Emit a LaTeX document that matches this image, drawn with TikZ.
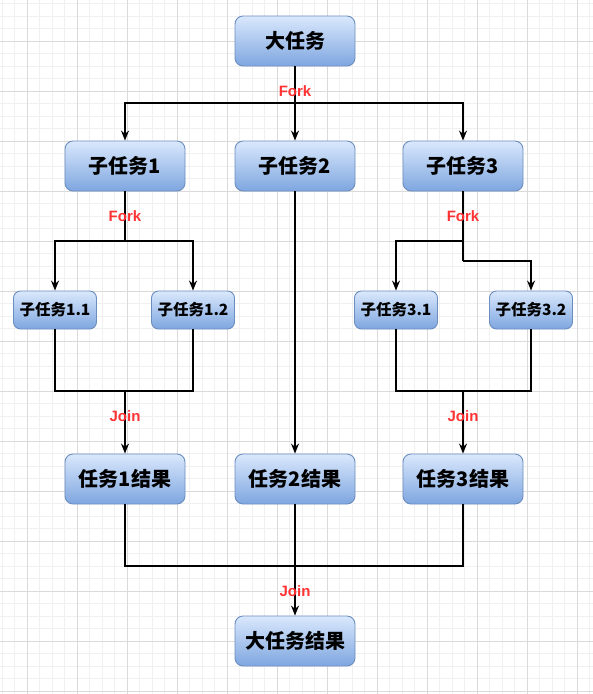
\documentclass[tikz,border=0pt]{standalone}
\usepackage{fontspec}
\setmainfont{Liberation Sans}
\newfontfamily\cjk{Noto Sans CJK SC}
\usetikzlibrary{arrows.meta,shadings}
\definecolor{gminor}{HTML}{F0F0F0}
\definecolor{gmajor}{HTML}{DADADA}
\definecolor{boxtop}{HTML}{DAE8FC}
\definecolor{boxbot}{HTML}{7EA6E0}
\definecolor{boxline}{HTML}{6C8EBF}
\definecolor{labred}{HTML}{FF3333}
\tikzset{
  bigbox/.style={rounded corners=8pt, draw=boxline, line width=0.9pt, top color=boxtop, bottom color=boxbot,
    minimum width=120pt, minimum height=50pt, inner sep=0pt, font=\cjk\bfseries\fontsize{20}{24}\selectfont},
  smallbox/.style={rounded corners=7pt, draw=boxline, line width=0.9pt, top color=boxtop, bottom color=boxbot,
    minimum width=83pt, minimum height=38pt, inner sep=0pt, font=\cjk\bfseries\fontsize{15.5}{18}\selectfont},
  conn/.style={line width=1.3pt, black},
  arr/.style={conn, -{Stealth[length=10pt,width=8pt]}},
  lab/.style={text=labred, font=\bfseries\fontsize{15}{18}\selectfont, inner sep=0pt}
}
\begin{document}
\begin{tikzpicture}[x=1pt,y=-1pt]
\useasboundingbox (0,0) rectangle (593,694);
\fill[white] (0,0) rectangle (593,694);
% grid
\foreach \x in {2,14.5,...,593} \draw[gminor, line width=0.8pt] (\x,0) -- (\x,694);
\foreach \y in {3.5,16,...,694} \draw[gminor, line width=0.8pt] (0,\y) -- (593,\y);
\foreach \x in {27,77,...,593} \draw[gmajor, line width=0.8pt] (\x,0) -- (\x,694);
\foreach \y in {41,91,...,694} \draw[gmajor, line width=0.8pt] (0,\y) -- (593,\y);

% nodes
\node[bigbox] (big) at (295,41) {大任务};
\node[bigbox] (s1) at (125,166) {子任务1};
\node[bigbox] (s2) at (295,166) {子任务2};
\node[bigbox] (s3) at (463,166) {子任务3};
\node[smallbox] (s11) at (55,310) {子任务1.1};
\node[smallbox] (s12) at (193,310) {子任务1.2};
\node[smallbox] (s31) at (396,310) {子任务3.1};
\node[smallbox] (s32) at (531,310) {子任务3.2};
\node[bigbox] (r1) at (125,479) {任务1结果};
\node[bigbox] (r2) at (295,479) {任务2结果};
\node[bigbox] (r3) at (463,479) {任务3结果};
\node[bigbox] (fin) at (295,641) {大任务结果};

% junction points
\coordinate (f0) at (295,103);
\coordinate (f1) at (125,241);
\coordinate (f3a) at (463,241);
\coordinate (f3b) at (463,261);
\coordinate (j1) at (125,391);
\coordinate (j3) at (463,391);
\coordinate (j0) at (295,566);

% connectors
\draw[conn] (big) -- (f0);
\draw[arr] (f0) -| (s1);
\draw[arr] (f0) -| (s3);
\draw[arr] (f0) -- (s2);

\draw[conn] (s1) -- (f1);
\draw[arr] (f1) -| (s11);
\draw[arr] (f1) -| (s12);

\draw[conn] (s3) -- (f3b);
\draw[arr] (f3a) -| (s31);
\draw[arr] (f3b) -| (s32);

\draw[conn] (s11) |- (j1) -| (s12);
\draw[arr] (j1) -- (r1);
\draw[conn] (s31) |- (j3) -| (s32);
\draw[arr] (j3) -- (r3);

\draw[arr] (s2) -- (r2);

\draw[conn] (r1) |- (j0) -| (r3);
\draw[arr] (r2) -- (fin);

% labels
\node[lab] (lf0) at (295,91) {Fork};
\node[lab] (lf1) at (125,216) {Fork};
\node[lab] (lf3) at (463,216) {Fork};
\node[lab] (lj1) at (125,416) {Join};
\node[lab] (lj3) at (463,416) {Join};
\node[lab] (lj0) at (295,591) {Join};
\end{tikzpicture}
\end{document}
